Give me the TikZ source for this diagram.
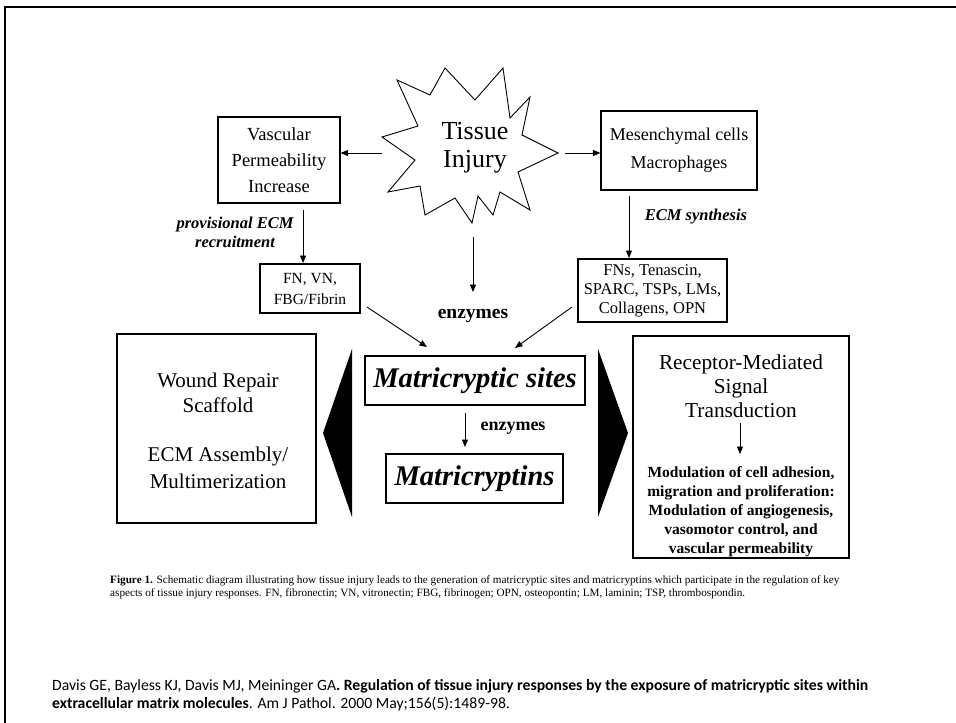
\documentclass[tikz,border=0pt]{standalone}
\usepackage{fontspec}
\setmainfont{Liberation Serif}
\newfontfamily\calib{Carlito}
\usetikzlibrary{arrows.meta}
\tikzset{
  box/.style={draw, line width=1.1pt, rectangle, inner sep=0pt},
  arr/.style={line width=0.9pt, -{Triangle[length=7.5pt,width=6pt]}},
  lbl/.style={inner sep=0pt, align=center},
  edgelbl/.style={lbl, font=\fontsize{16.5}{19}\selectfont\bfseries\itshape},
}
\begin{document}
\begin{tikzpicture}[x=1pt,y=-1pt]
\useasboundingbox (0,0) rectangle (956,723);
% slide frame
\draw[line width=2pt] (4.5,723) -- (4.5,7) -- (956,7);

% star
\draw[line width=0.9pt] (397,80) -- (430,95) -- (445,68) -- (475,100) -- (503,68) -- (510,118)
  -- (530,97) -- (522,135) -- (558,153) -- (518,172) -- (530,210) -- (500,192) -- (493,215)
  -- (478,196) -- (472,223) -- (455,198) -- (425,215) -- (420,186) -- (388,192) -- (415,160)
  -- (382,137) -- (418,126) -- cycle;
\node[lbl, font=\fontsize{26}{28}\selectfont] (inj) at (475,148) {Tissue\\Injury};
\coordinate (starL) at (382,153);
\coordinate (starR) at (565,153);
\coordinate (starB) at (473,237);

% boxes
\node[box, minimum width=122pt, minimum height=86pt] (vasc) at (279,160) {};
\node[lbl, font=\fontsize{18.5}{26}\selectfont] at (vasc) {Vascular\\Permeability\\Increase};

\node[box, minimum width=156pt, minimum height=79pt] (mes) at (679,150.5) {};
\node[lbl, font=\fontsize{18}{28}\selectfont] at (mes) {Mesenchymal cells\\Macrophages};

\node[box, minimum width=149pt, minimum height=63pt] (fns) at (652.5,290.5) {};
\node[lbl, font=\fontsize{16.5}{19}\selectfont] at (fns) {FNs, Tenascin,\\SPARC, TSPs, LMs,\\Collagens, OPN};

\node[box, minimum width=100pt, minimum height=49pt] (fn) at (310,288.5) {};
\node[lbl, font=\fontsize{15.5}{21}\selectfont] at (fn) {FN, VN,\\FBG/Fibrin};

\node[box, minimum width=220pt, minimum height=49pt] (msites) at (475,380.5) {};
\node[lbl, font=\fontsize{28.5}{30}\selectfont\bfseries\itshape] at (msites) {Matricryptic sites};

\node[box, minimum width=177pt, minimum height=49pt] (mtins) at (474.5,478.5) {};
\node[lbl, font=\fontsize{28.5}{30}\selectfont\bfseries\itshape] at (mtins) {Matricryptins};

\node[box, minimum width=199pt, minimum height=189pt] (wound) at (216.5,428.5) {};
\node[lbl, font=\fontsize{21}{25}\selectfont] at (218,393) {Wound Repair\\Scaffold};
\node[lbl, font=\fontsize{21}{27}\selectfont] at (218,468) {ECM Assembly/\\Multimerization};

\node[box, minimum width=216pt, minimum height=222pt] (rec) at (741,447) {};
\node[lbl, font=\fontsize{21.3}{24}\selectfont] (rtop) at (741,386) {Receptor-Mediated\\Signal\\Transduction};
\node[lbl, font=\fontsize{15.5}{19}\selectfont\bfseries] (rbot) at (741,512) {Modulation of cell adhesion,\\migration and proliferation:\\Modulation of angiogenesis,\\vasomotor control, and\\vascular permeability};
\coordinate (recA) at (740,423);
\coordinate (recB) at (740,454);

% black triangles
\fill (352,349) -- (323,433) -- (352,517) -- cycle;
\fill (598,349) -- (628,433) -- (598,517) -- cycle;

% arrows
\coordinate (vascOut) at (303,210);
\coordinate (fnIn) at (303,263);
\coordinate (mesOut) at (629,196);
\coordinate (fnsIn) at (629,258);
\coordinate (enzIn) at (473,292);
\coordinate (fnOut) at (367,307);
\coordinate (fnsOut) at (572,307);
\coordinate (msIn1) at (427,347);
\coordinate (msIn2) at (515,348);
\coordinate (msOut) at (465,413);
\coordinate (mtIn) at (465,447);
\draw[arr] (starL) -- (vasc.east |- starL);
\draw[arr] (starR) -- (mes.west |- starR);
\draw[arr] (vascOut) -- (fnIn);
\draw[arr] (mesOut) -- (fnsIn);
\draw[arr] (starB) -- (enzIn);
\node[lbl, font=\fontsize{19.5}{21}\selectfont\bfseries] (enz1) at (473,316) {enzymes};
\draw[arr] (fnOut) -- (msIn1);
\draw[arr] (fnsOut) -- (msIn2);
\draw[arr] (msOut) -- (mtIn);
\node[lbl, font=\fontsize{18}{20}\selectfont\bfseries] (enz2) at (513,428) {enzymes};
\draw[arr] (recA) -- (recB);

% edge labels
\node[edgelbl] at (235,232) {provisional ECM\\recruitment};
\node[edgelbl] at (696,217) {ECM synthesis};

% caption
\node[anchor=west, inner sep=0, font=\fontsize{11.2}{13}\selectfont] at (110,581) {\textbf{Figure 1.} Schematic diagram illustrating how tissue injury leads to the generation of matricryptic sites and matricryptins which participate in the regulation of key};
\node[anchor=west, inner sep=0, font=\fontsize{11.2}{13}\selectfont] at (110,594) {aspects of tissue injury responses. FN, fibronectin; VN, vitronectin; FBG, fibrinogen; OPN, osteopontin; LM, laminin; TSP, thrombospondin.};

% reference
\node[anchor=west, inner sep=0, font=\calib\fontsize{15.7}{18}\selectfont] at (52,686) {Davis GE, Bayless KJ, Davis MJ, Meininger GA\textbf{. Regulation of tissue injury responses by the exposure of matricryptic sites within}};
\node[anchor=west, inner sep=0, font=\calib\fontsize{15.7}{18}\selectfont] at (52,704) {\textbf{extracellular matrix molecules}. Am J Pathol. 2000 May;156(5):1489-98.};
\end{tikzpicture}
\end{document}
